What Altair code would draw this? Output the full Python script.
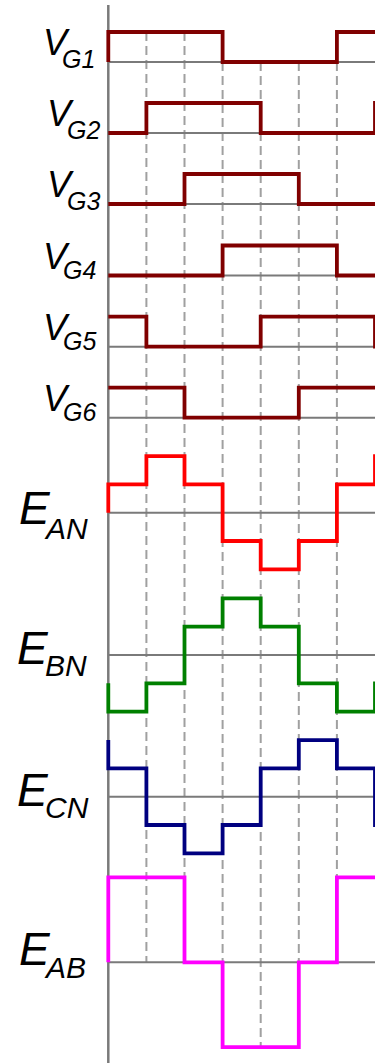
import altair as alt
import pandas as pd

# ---------------- data (signal levels per 60-degree interval) ----------------
signals = ["VG1", "VG2", "VG3", "VG4", "VG5", "VG6", "EAN", "EBN", "ECN", "EAB"]
times = [0, 1, 2, 3, 4, 5, 6, 7]          # switching instants (one step each)

start_level = [0, 0, 0, 0, 1, 1, 0, -1, 2, 0]   # level drawn just before t = 0
VG1 = [1, 1, 1, 0, 0, 0, 1]
VG2 = [0, 1, 1, 1, 0, 0, 0]
VG3 = [0, 0, 1, 1, 1, 0, 0]
VG4 = [0, 0, 0, 1, 1, 1, 0]
VG5 = [1, 0, 0, 0, 1, 1, 1]
VG6 = [1, 1, 0, 0, 0, 1, 1]
EAN = [1, 2, 1, -1, -2, -1, 1]
EBN = [-2, -1, 1, 2, 1, -1, -2]
ECN = [1, -1, -2, -1, 1, 2, 1]
EAB = [3, 3, 0, -3, -3, 0, 3]
next_level = [1, 1, 0, 0, 0, 1, 2, -1, -1, 3]   # level after t = 7

main_letter = ["V", "V", "V", "V", "V", "V", "E", "E", "E", "E"]
subscript = ["G1", "G2", "G3", "G4", "G5", "G6", "AN", "BN", "CN", "AB"]

# ---------------- layout / style ----------------
W, H = 375, 1063
AXIS_PX, UNIT_PX = 108.3, 38.1
base_px = [62, 133, 204, 275.5, 346.7, 417.7, 512.7, 655, 796.7, 962.3]
amp_px = [30] * 6 + [28.3] * 4
colors = ["#800000"] * 6 + ["#ff0000", "#008000", "#000080", "#ff00ff"]
main_dx = [43, 47, 47, 43, 43, 43, 19, 17, 17, 19]
sub_dx = [62, 67, 67, 63, 63, 63, 46, 45, 45, 46]
main_dy = [-7, -7, -7, -7, -7, -7, 11, 9, 9, 3]
sub_dy = [6, 6, 6, 3, 3, 3, 26, 21, 21, 16]

series = [VG1, VG2, VG3, VG4, VG5, VG6, EAN, EBN, ECN, EAB]

rows = []
for i, name in enumerate(signals):
    lv = series[i]
    pts = [(times[0], start_level[i])]
    for k, v in enumerate(lv):
        pts.append((times[k], v))
        pts.append((times[k + 1], v))
    pts.append((times[-1], next_level[i]))
    pts.append((times[-1] + 0.6, next_level[i]))
    for j, (t, v) in enumerate(pts):
        rows.append({"sig": name, "idx": j, "t": t,
                     "y": base_px[i] - amp_px[i] * v})
wave_df = pd.DataFrame(rows)

base_df = pd.DataFrame({"sig": signals, "y": base_px,
                        "t0": times[0], "t1": times[-1] + 0.6})

dash_rows = []
for k in times[1:-1]:
    top = min(VG1[k - 1], VG1[k])
    bot = min(0, EAB[k - 1], EAB[k])
    dash_rows.append({"t": k, "y": base_px[0] - amp_px[0] * top,
                      "y2": base_px[-1] - amp_px[-1] * bot})
dash_df = pd.DataFrame(dash_rows)

axis_df = pd.DataFrame({"t": [0], "y": [5], "y2": [H]})

lab_df = pd.DataFrame({
    "main": main_letter, "sub": subscript,
    "ym": [b + d for b, d in zip(base_px, main_dy)],
    "ys": [b + d for b, d in zip(base_px, sub_dy)],
    "xm": main_dx, "xs": sub_dx,
    "big": [i >= 6 for i in range(10)],
})

xs = alt.Scale(domain=[(0 - AXIS_PX) / UNIT_PX, (W - AXIS_PX) / UNIT_PX], nice=False, zero=False)
ys = alt.Scale(domain=[0, H], reverse=True, nice=False, zero=False)
X = lambda f: alt.X(f, type="quantitative", scale=xs, axis=None)
Y = lambda f: alt.Y(f, type="quantitative", scale=ys, axis=None)

dashes = alt.Chart(dash_df).mark_rule(color="#a0a0a0", strokeWidth=2, strokeDash=[9, 5]).encode(
    x=X("t"), y=Y("y"), y2="y2")

baselines = alt.Chart(base_df).mark_rule(color="#7a7a7a", strokeWidth=2).encode(
    x=X("t0"), x2="t1", y=Y("y"))

axis_line = alt.Chart(axis_df).mark_rule(color="#7a7a7a", strokeWidth=2.5).encode(
    x=X("t"), y=Y("y"), y2="y2")

waves = alt.Chart(wave_df).mark_line(strokeWidth=3.8, strokeJoin="miter", strokeCap="butt").encode(
    x=X("t"), y=Y("y"), detail="sig:N", order="idx:Q",
    color=alt.Color("sig:N", scale=alt.Scale(domain=signals, range=colors), legend=None))

def labels(df, big):
    fm, fs = (46, 30) if big else (36, 25)
    m = alt.Chart(df).mark_text(font="Liberation Sans", fontStyle="italic", fontSize=fm,
                                align="left", baseline="alphabetic", color="black").encode(
        x=alt.X("xm:Q", scale=None), y=Y("ym"), text="main:N")
    s = alt.Chart(df).mark_text(font="Liberation Sans", fontStyle="italic", fontSize=fs,
                                align="left", baseline="alphabetic", color="black").encode(
        x=alt.X("xs:Q", scale=None), y=Y("ys"), text="sub:N")
    return m + s

lab_small = labels(lab_df[~lab_df["big"]], False)
lab_big = labels(lab_df[lab_df["big"]], True)

chart = alt.layer(dashes, baselines, axis_line, waves, lab_small, lab_big).properties(
    width=W, height=H, padding=0, autosize=alt.AutoSizeParams(type="none"),
    background="white"
).configure_view(stroke=None)

chart.save("out.html", embed_options={"renderer": "svg", "actions": False})
